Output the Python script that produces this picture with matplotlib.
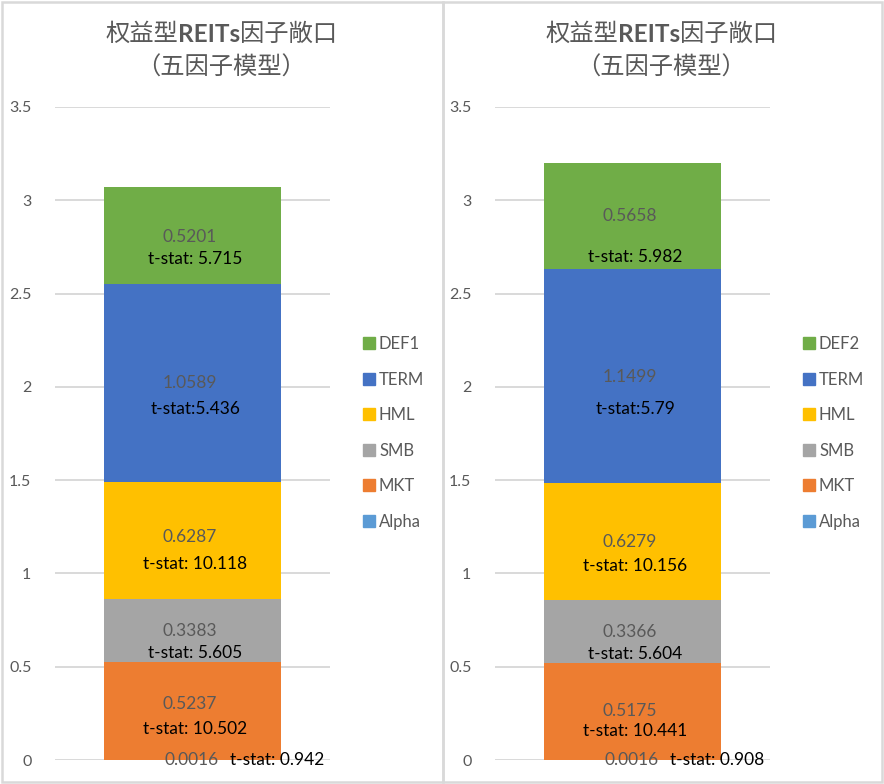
import matplotlib.pyplot as plt
from matplotlib.patches import Rectangle
from matplotlib.lines import Line2D

plt.rcParams['font.family'] = ['Lato', 'Noto Sans CJK SC', 'DejaVu Sans']

# stacked from bottom to top
factors = ['Alpha', 'MKT', 'SMB', 'HML', 'TERM', 'DEF']
colors = ['#5B9BD5', '#ED7D31', '#A5A5A5', '#FFC000', '#4472C4', '#70AD47']

left_labels = ['Alpha', 'MKT', 'SMB', 'HML', 'TERM', 'DEF1']
left_vals = [0.0016, 0.5237, 0.3383, 0.6287, 1.0589, 0.5201]
left_tstat = ['t-stat: 0.942', 't-stat: 10.502', 't-stat: 5.605',
              't-stat: 10.118', 't-stat:5.436', 't-stat: 5.715']

right_labels = ['Alpha', 'MKT', 'SMB', 'HML', 'TERM', 'DEF2']
right_vals = [0.0016, 0.5175, 0.3366, 0.6279, 1.1499, 0.5658]
right_tstat = ['t-stat: 0.908', 't-stat: 10.441', 't-stat: 5.604',
               't-stat: 10.156', 't-stat:5.79', 't-stat: 5.982']

title_parts = [('权益型', 'normal'), ('REITs', 'bold'), ('因子敞口', 'normal')]
title_line2 = '（五因子模型）'
yticks = [0, 0.5, 1, 1.5, 2, 2.5, 3, 3.5]

W, H = 884, 784
fig = plt.figure(figsize=(W / 100, H / 100), dpi=100)
fig.patch.set_facecolor('white')
renderer = fig.canvas.get_renderer()

# panel borders
for x0, x1 in [(2, 443), (443, 882)]:
    fig.patches.append(Rectangle((x0 / W, 2 / H), (x1 - x0) / W, (H - 4) / H,
                                 transform=fig.transFigure, fill=False,
                                 edgecolor='#D9D9D9', linewidth=1.8))

GRAY = '#595959'
CJK = ['Noto Sans CJK SC', 'DejaVu Sans']
TSIZE = 17.5


def draw_title(cx):
    # first line: mixed weights, centred as a whole
    texts = []
    for s, wgt in title_parts:
        fam = ['Lato'] + CJK if wgt == 'bold' else CJK
        t = fig.text(0, 1 - 34 / H, s, ha='left', va='center', fontsize=TSIZE,
                     color=GRAY, fontweight=wgt, family=fam)
        texts.append(t)
    widths = [t.get_window_extent(renderer).width for t in texts]
    x = cx - sum(widths) / 2
    for t, w in zip(texts, widths):
        t.set_x(x / W)
        x += w
    fig.text(cx / W, 1 - 68 / H, title_line2, ha='center', va='center',
             fontsize=TSIZE, color=GRAY, family=CJK)


def draw_panel(x_left, x_right, title_x, legend_x, labels, vals, tstats, toffs):
    ax = fig.add_axes([x_left / W, (H - 760) / H, (x_right - x_left) / W, 653 / H])
    half = (x_right - x_left) / 177 / 2
    ax.set_xlim(-half, half)
    ax.set_ylim(0, 3.5)
    ax.set_yticks(yticks)
    ax.set_yticklabels([f'{t:g}' for t in yticks])
    ax.tick_params(axis='y', length=0, pad=17, labelsize=11.5, labelcolor=GRAY)
    ax.set_xticks([])
    for s in ax.spines.values():
        s.set_visible(False)
    for t in yticks:
        ax.axhline(t, color='#D9D9D9', linewidth=1.4, zorder=0)

    bottom = 0
    for i, v in enumerate(vals):
        ax.bar(0, v, width=1.0, bottom=bottom, color=colors[i], zorder=2)
        mid = bottom + v / 2
        if i == 0:
            ax.annotate(f'{v:.4f}', (0, 0), xytext=(-1, 0), textcoords='offset points',
                        ha='center', va='center', fontsize=12.5, color=GRAY, zorder=4)
            ax.annotate(tstats[i], (0, 0), xytext=(61, 0), textcoords='offset points',
                        ha='center', va='center', fontsize=12.5, color='black', zorder=4)
        else:
            dv, dt = toffs[i]
            ax.annotate(f'{v:.4f}', (0, mid), xytext=(-2, dv * 0.72),
                        textcoords='offset points', ha='center', va='center',
                        fontsize=12.5, color=GRAY, zorder=4)
            ax.annotate(tstats[i], (0, mid), xytext=(2, dt * 0.72),
                        textcoords='offset points', ha='center', va='center',
                        fontsize=12.5, color='black', zorder=4)
        bottom += v

    draw_title(title_x)

    handles = [Line2D([], [], marker='s', linestyle='', markersize=8,
                      markerfacecolor=colors[i], markeredgecolor=colors[i])
               for i in range(len(vals))][::-1]
    ax.legend(handles, labels[::-1], loc='center left',
              bbox_to_anchor=(legend_x / W, 1 - 433 / H), bbox_transform=fig.transFigure,
              frameon=False, fontsize=12, labelcolor=GRAY, handlelength=0.8,
              handletextpad=0.2, labelspacing=1.17, borderpad=0)
    return ax


# offsets (px) of value label and t-stat label from segment centre
left_offs = [(0, 0), (7, -18), (-1, -23), (3, -24), (0, -26), (-1, -23)]
right_offs = [(0, 0), (0, -20), (0, -22), (0, -24), (-1, -33), (0, -41)]

draw_panel(55, 330, 221, 354, left_labels, left_vals, left_tstat, left_offs)
draw_panel(495, 770, 661, 794, right_labels, right_vals, right_tstat, right_offs)

fig.savefig('out.png', dpi=100)
